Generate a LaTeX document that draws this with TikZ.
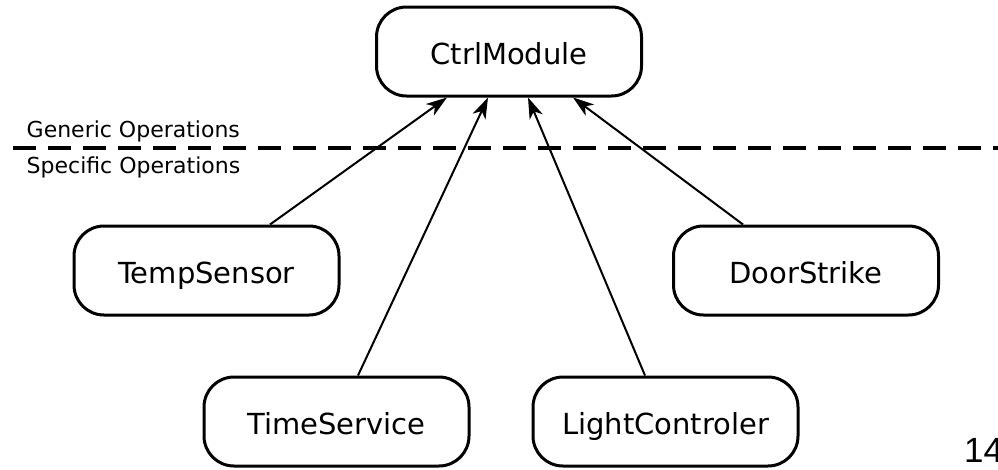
\documentclass[tikz,border=0pt]{standalone}
\usepackage{fontspec}
\setmainfont{DejaVu Sans}
\newfontfamily\pagenumfont{Liberation Sans}
\usetikzlibrary{arrows.meta}

\tikzset{
  module/.style={draw, line width=3pt, rounded corners=30pt,
    minimum width=265pt, minimum height=89pt, inner sep=0pt,
    text height=29pt, text depth=4pt,
    font=\fontsize{29}{34}\selectfont},
  depends/.style={line width=2pt,
    -{Stealth[length=21pt, width=14pt, inset=6pt]}},
  layerlabel/.style={anchor=base west, inner sep=0pt,
    font=\fontsize{22}{26}\selectfont},
  layerline/.style={line width=3.5pt, dash pattern=on 23pt off 12pt}
}

\begin{document}
\begin{tikzpicture}[x=1pt, y=-1pt]
  \useasboundingbox (0,0) rectangle (998,469);

  % layer separator between generic and specific operations
  \coordinate (sepL) at (13,148);
  \coordinate (sepR) at (998,148);
  \draw[layerline] (sepL) -- (sepR);
  \node[layerlabel] (generic) at (26.5,137) {Generic Operations};
  \node[layerlabel] (specific) at (26.5,173) {Specific Operations};

  % modules
  \node[module] (cm) at (509,51.5) {CtrlModule};
  \node[module] (ts) at (206.5,270.5) {TempSensor};
  \node[module] (ds) at (806,270.5) {DoorStrike};
  \node[module] (tm) at (336.5,421.5) {TimeService};
  \node[module] (lc) at (665.5,421.5) {LightControler};

  % dependencies on the control module
  \draw[depends] ([xshift=63.5pt]ts.north) -- ([xshift=-62pt]cm.south);
  \draw[depends] ([xshift=21.5pt]tm.north) -- ([xshift=-21pt]cm.south);
  \draw[depends] ([xshift=-20.5pt]lc.north) -- ([xshift=19pt]cm.south);
  \draw[depends] ([xshift=-63pt]ds.north) -- ([xshift=64pt]cm.south);

  % page number
  \node[anchor=base west, inner sep=0pt, font=\pagenumfont\fontsize{35}{40}\selectfont]
    (pagenum) at (964,462) {14};
\end{tikzpicture}
\end{document}
